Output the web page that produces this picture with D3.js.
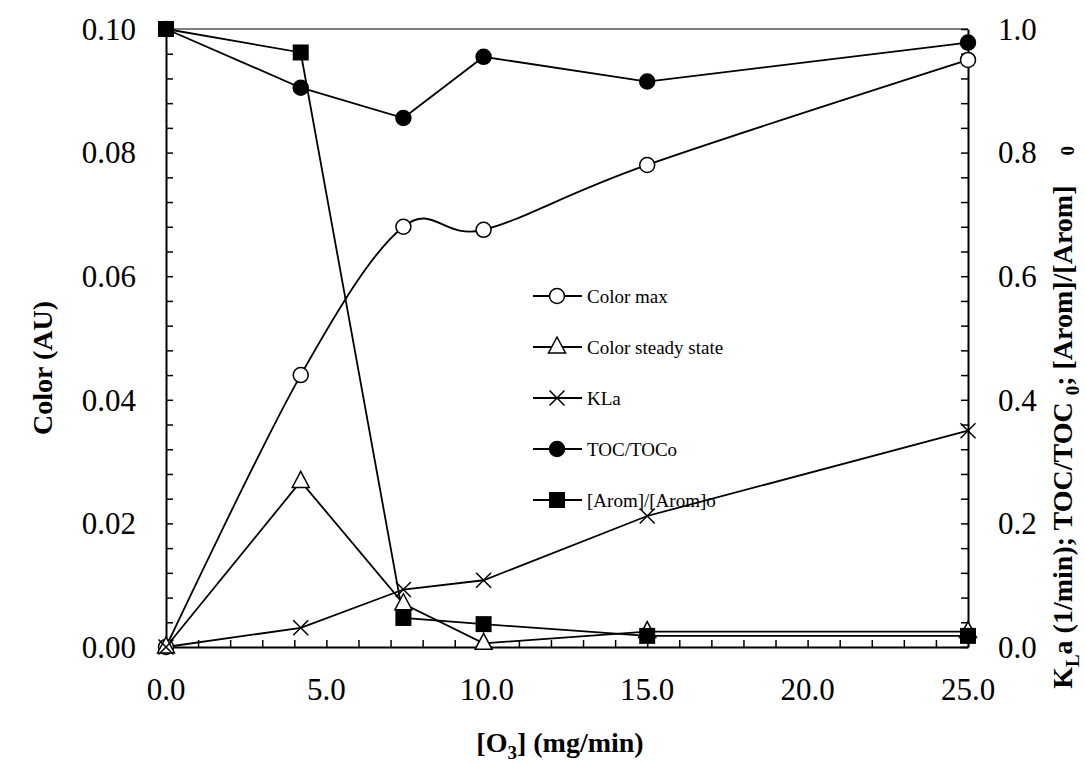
<!DOCTYPE html>
<html>
<head>
<meta charset="utf-8">
<script src="https://cdn.jsdelivr.net/npm/d3@7"></script>
<style>
  body { margin: 0; background: #fff; }
  svg text { font-family: "Liberation Serif", "Times New Roman", serif; fill: #000; }
  .tick-label { font-size: 31px; }
  .axis-title { font-size: 28px; font-weight: bold; }
  .legend-text { font-size: 19px; }
</style>
</head>
<body>
<svg id="chart" width="1085" height="765"></svg>
<script>
// ozone dose (mg/min)
const ozone = [0, 4.2, 7.4, 9.9, 15, 25];

// left axis series (AU)
const colorMax = [0, 0.044, 0.068, 0.0675, 0.078, 0.095];
const colorSteady = [0, 0.0268, 0.007, 0.0006, 0.0025, 0.0025];

// right axis series
const kla = [0, 0.031, 0.093, 0.108, 0.212, 0.35];
const tocRatio = [1.0, 0.905, 0.856, 0.955, 0.915, 0.978];
const aromRatio = [1.0, 0.962, 0.047, 0.037, 0.018, 0.018];

const xTicks = [0, 5, 10, 15, 20, 25];
const leftTicks = [0, 0.02, 0.04, 0.06, 0.08, 0.10];
const rightTicks = [0, 0.2, 0.4, 0.6, 0.8, 1.0];

const legendNames = ["Color max", "Color steady state", "KLa", "TOC/TOCo", "[Arom]/[Arom]o"];

let svg = d3.select('#chart');

let plotLeft = 166, plotRight = 968, plotTop = 29, plotBottom = 647;

let x = d3.scaleLinear().domain([0, 25]).range([plotLeft, plotRight]);
let yL = d3.scaleLinear().domain([0, 0.10]).range([plotBottom, plotTop]);
let yR = d3.scaleLinear().domain([0, 1.0]).range([plotBottom, plotTop]);

// top border (grey)
svg.append('line')
    .attr('x1', plotLeft).attr('x2', plotRight)
    .attr('y1', plotTop).attr('y2', plotTop)
    .attr('stroke', '#808080').attr('stroke-width', 2);

// axes: ticks drawn inward, labels placed by hand
function styleAxis(g) {
    g.select('.domain').attr('stroke', '#000').attr('stroke-width', 2);
    g.selectAll('.tick line').attr('stroke', '#000').attr('stroke-width', 1.5);
    g.selectAll('.tick text').remove();
}

let xAxis = svg.append('g')
    .attr('transform', `translate(0,${plotBottom})`)
    .call(d3.axisTop(x).tickValues(d3.range(0, 26, 1)).tickSize(7).tickSizeOuter(0));
styleAxis(xAxis);

let yAxisL = svg.append('g')
    .attr('transform', `translate(${plotLeft},0)`)
    .call(d3.axisRight(yL).tickValues(d3.range(0, 26).map(i => i * 0.004)).tickSize(7).tickSizeOuter(0));
styleAxis(yAxisL);

let yAxisR = svg.append('g')
    .attr('transform', `translate(${plotRight},0)`)
    .call(d3.axisLeft(yR).tickValues(d3.range(0, 26).map(i => i * 0.04)).tickSize(7).tickSizeOuter(0));
styleAxis(yAxisR);

// tick labels
svg.selectAll('text.xlab')
    .data(xTicks).enter().append('text')
    .attr('class', 'tick-label xlab')
    .attr('x', d => x(d)).attr('y', 700)
    .attr('text-anchor', 'middle')
    .text(d => d.toFixed(1));

svg.selectAll('text.ylab')
    .data(leftTicks).enter().append('text')
    .attr('class', 'tick-label ylab')
    .attr('x', 136).attr('y', d => yL(d))
    .attr('dy', '0.35em')
    .attr('text-anchor', 'end')
    .text(d => d.toFixed(2));

svg.selectAll('text.rlab')
    .data(rightTicks).enter().append('text')
    .attr('class', 'tick-label rlab')
    .attr('x', 998).attr('y', d => yR(d))
    .attr('dy', '0.35em')
    .attr('text-anchor', 'start')
    .text(d => d.toFixed(1));

// axis titles
svg.append('text')
    .attr('class', 'axis-title')
    .attr('transform', `translate(52,${(plotTop + plotBottom) / 2 + 30}) rotate(-90)`)
    .attr('text-anchor', 'middle')
    .text('Color (AU)');

let xt = svg.append('text')
    .attr('class', 'axis-title')
    .attr('x', 560).attr('y', 752)
    .attr('text-anchor', 'middle');
xt.append('tspan').text('[O');
xt.append('tspan').attr('dy', 7).attr('font-size', 19).text('3');
xt.append('tspan').attr('dy', -7).text('] (mg/min)');

let rt = svg.append('text')
    .attr('class', 'axis-title')
    .attr('font-size', 30)
    .attr('transform', `translate(1072,146) rotate(-90)`)
    .attr('text-anchor', 'end');
rt.append('tspan').text('K');
rt.append('tspan').attr('dy', 7).attr('font-size', 19).text('L');
rt.append('tspan').attr('dy', -7).text('a (1/min);  TOC/TOC ');
rt.append('tspan').attr('dy', 7).attr('font-size', 19).text('0');
rt.append('tspan').attr('dy', -7).text('; [Arom]/[Arom]');
rt.append('tspan').attr('dx', 30).attr('dy', 2).attr('font-size', 19).text('0');

// series
const series = [
    { values: colorMax, y: yL, marker: 'circleOpen', curve: d3.curveCardinal.tension(0) },
    { values: colorSteady, y: yL, marker: 'triangle', curve: d3.curveLinear },
    { values: kla, y: yR, marker: 'cross', curve: d3.curveLinear },
    { values: tocRatio, y: yR, marker: 'circle', curve: d3.curveLinear },
    { values: aromRatio, y: yR, marker: 'square', curve: d3.curveLinear }
];

function drawMarker(g, type, cx, cy) {
    if (type === 'circleOpen' || type === 'circle') {
        g.append('circle')
            .attr('cx', cx).attr('cy', cy).attr('r', 7.5)
            .attr('fill', type === 'circle' ? '#000' : '#fff')
            .attr('stroke', '#000').attr('stroke-width', 1.5);
    } else if (type === 'square') {
        g.append('rect')
            .attr('x', cx - 8).attr('y', cy - 8)
            .attr('width', 16).attr('height', 16)
            .attr('fill', '#000');
    } else if (type === 'triangle') {
        g.append('path')
            .attr('d', `M ${cx} ${cy - 10} L ${cx + 8.5} ${cy + 6} L ${cx - 8.5} ${cy + 6} Z`)
            .attr('fill', '#fff').attr('stroke', '#000').attr('stroke-width', 1.5);
    } else if (type === 'cross') {
        g.append('path')
            .attr('d', `M ${cx - 7.5} ${cy - 7.5} L ${cx + 7.5} ${cy + 7.5} M ${cx - 7.5} ${cy + 7.5} L ${cx + 7.5} ${cy - 7.5}`)
            .attr('stroke', '#000').attr('stroke-width', 1.5);
    }
}

series.forEach(s => {
    let line = d3.line()
        .x((d, i) => x(ozone[i]))
        .y(d => s.y(d))
        .curve(s.curve);

    svg.append('path')
        .datum(s.values)
        .attr('d', line)
        .attr('fill', 'none')
        .attr('stroke', '#000')
        .attr('stroke-width', 1.8);
});

series.forEach(s => {
    let g = svg.append('g');
    s.values.forEach((v, i) => drawMarker(g, s.marker, x(ozone[i]), s.y(v)));
});

// legend
let legend = svg.append('g');
legendNames.forEach((name, i) => {
    let ly = 296 + i * 51;
    legend.append('line')
        .attr('x1', 533).attr('x2', 582)
        .attr('y1', ly).attr('y2', ly)
        .attr('stroke', '#000').attr('stroke-width', 1.8);
    drawMarker(legend, series[i].marker, 557, ly);
    legend.append('text')
        .attr('class', 'legend-text')
        .attr('x', 587).attr('y', ly)
        .attr('dy', '0.35em')
        .text(name);
});
</script>
</body>
</html>
